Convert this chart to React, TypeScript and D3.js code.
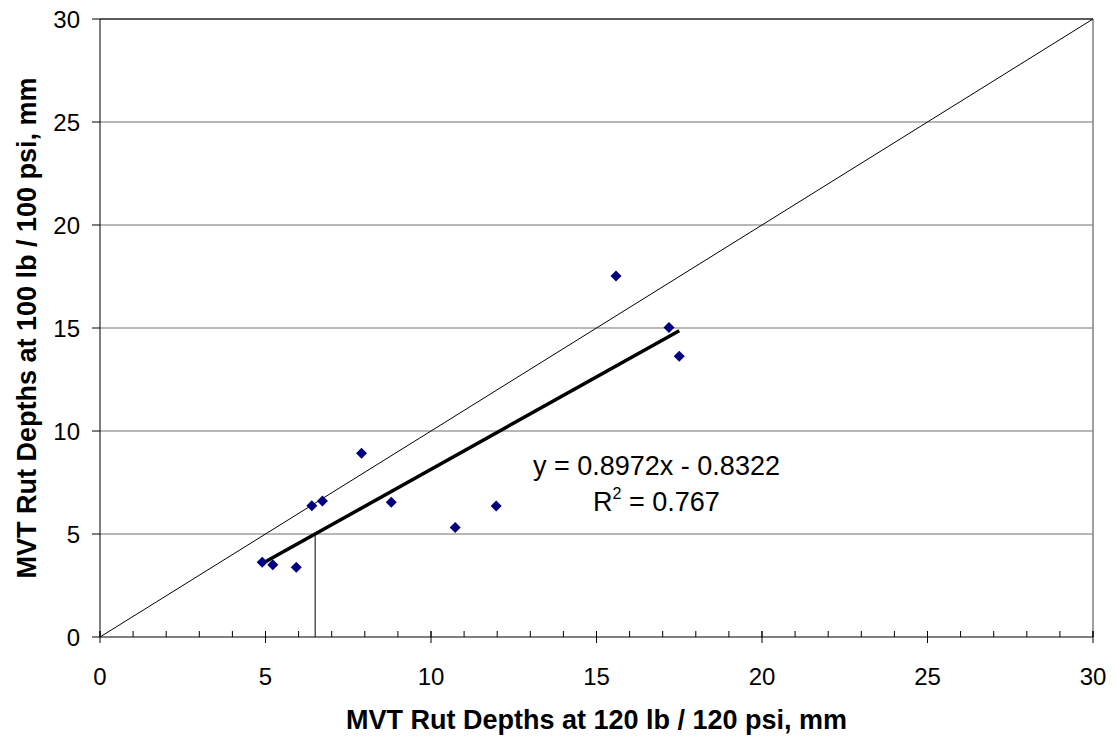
import React from "react";
import * as d3 from "d3";

// Rut depth pairs (x: 120 lb / 120 psi, y: 100 lb / 100 psi), mm
const rut120 = [4.9, 5.22, 5.93, 6.4, 6.72, 7.9, 8.8, 10.73, 11.97, 15.59, 17.19, 17.5];
const rut100 = [3.63, 3.51, 3.38, 6.37, 6.6, 8.92, 6.54, 5.32, 6.36, 17.53, 15.02, 13.63];

const slope = 0.8972;
const intercept = -0.8322;
const rSquared = "0.767";

const majorTicks = [0, 5, 10, 15, 20, 25, 30];
const minorTicks = d3.range(0, 31, 1);

// reference marker: 5 mm rut at the lower load maps back through the fit
const refY = 5;

const W = 1116;
const H = 740;
const M = { left: 100, right: 23, top: 19, bottom: 103 };

export default function App() {
  const x = d3.scaleLinear().domain([0, 30]).range([M.left, W - M.right]);
  const y = d3.scaleLinear().domain([0, 30]).range([H - M.bottom, M.top]);
  const x0 = x.range()[0], x1 = x.range()[1];
  const yb = y.range()[0], yt = y.range()[1];

  const xmin = d3.min(rut120)!;
  const xmax = d3.max(rut120)!;
  const fit = (v: number) => slope * v + intercept;
  const refX = (refY - intercept) / slope;

  const font = "Arial, 'Liberation Sans', sans-serif";
  const diamond = (cx: number, cy: number, r: number) =>
    `M${cx},${cy - r}L${cx + r},${cy}L${cx},${cy + r}L${cx - r},${cy}Z`;

  return (
    <svg width={W} height={H} style={{ position: "absolute", left: 0, top: 0 }} fontFamily={font}>
      <rect width={W} height={H} fill="#fff" />
      {/* horizontal gridlines */}
      {majorTicks.slice(1).map((t) => (
        <line key={"g" + t} x1={x0} x2={x1} y1={y(t)} y2={y(t)} stroke="#707070" strokeWidth={1} />
      ))}
      {/* plot border */}
      <line x1={x0} x2={x1} y1={yt} y2={yt} stroke="#000" strokeWidth={1} />
      <line x1={x1} x2={x1} y1={yt} y2={yb} stroke="#808080" strokeWidth={1.5} />
      {/* axes */}
      <line x1={x0} x2={x0} y1={yt} y2={yb} stroke="#000" strokeWidth={1} />
      <line x1={x0} x2={x1} y1={yb} y2={yb} stroke="#000" strokeWidth={1} />
      {/* x minor ticks */}
      {minorTicks.map((t) => (
        <line key={"mx" + t} x1={x(t)} x2={x(t)} y1={yb - 6} y2={yb} stroke="#000" strokeWidth={1} />
      ))}
      {/* x major ticks */}
      {majorTicks.map((t) => (
        <line key={"Mx" + t} x1={x(t)} x2={x(t)} y1={yb - 6} y2={yb + 6} stroke="#000" strokeWidth={1} />
      ))}
      {/* y major ticks */}
      {majorTicks.map((t) => (
        <line key={"My" + t} x1={x0 - 8} x2={x0} y1={y(t)} y2={y(t)} stroke="#000" strokeWidth={1} />
      ))}
      {/* tick labels */}
      {majorTicks.map((t) => (
        <text key={"lx" + t} x={x(t)} y={yb + 47.5} textAnchor="middle" fontSize={24} fill="#000">
          {t}
        </text>
      ))}
      {majorTicks.map((t) => (
        <text key={"ly" + t} x={x0 - 20} y={y(t) + 9} textAnchor="end" fontSize={24} fill="#000">
          {t}
        </text>
      ))}
      {/* line of equality */}
      <line x1={x(0)} y1={y(0)} x2={x(30)} y2={y(30)} stroke="#000" strokeWidth={1} />
      {/* reference drop line */}
      <line x1={x(refX)} x2={x(refX)} y1={y(0)} y2={y(refY)} stroke="#000" strokeWidth={1} />
      {/* linear trend */}
      <line x1={x(xmin)} y1={y(fit(xmin))} x2={x(xmax)} y2={y(fit(xmax))} stroke="#000" strokeWidth={3.5} />
      {/* data points */}
      {rut120.map((v, i) => (
        <path key={"p" + i} d={diamond(x(v), y(rut100[i]), 5.5)} fill="#000080" />
      ))}
      {/* regression annotation */}
      <text x={533} y={475} fontSize={27} fill="#000">
        y = 0.8972x - 0.8322
      </text>
      <text x={593} y={511} fontSize={27} fill="#000">
        R<tspan dy={-12} fontSize={16}>2</tspan>
        <tspan dy={12}> = {rSquared}</tspan>
      </text>
      {/* axis titles */}
      <text x={(x0 + x1) / 2} y={729} textAnchor="middle" fontSize={27} fontWeight="bold" fill="#000">
        MVT Rut Depths at 120 lb / 120 psi, mm
      </text>
      <text
        transform={`translate(36, ${(yt + yb) / 2}) rotate(-90)`}
        textAnchor="middle"
        fontSize={27}
        fontWeight="bold"
        fill="#000"
      >
        MVT Rut Depths at 100 lb / 100 psi, mm
      </text>
    </svg>
  );
}
